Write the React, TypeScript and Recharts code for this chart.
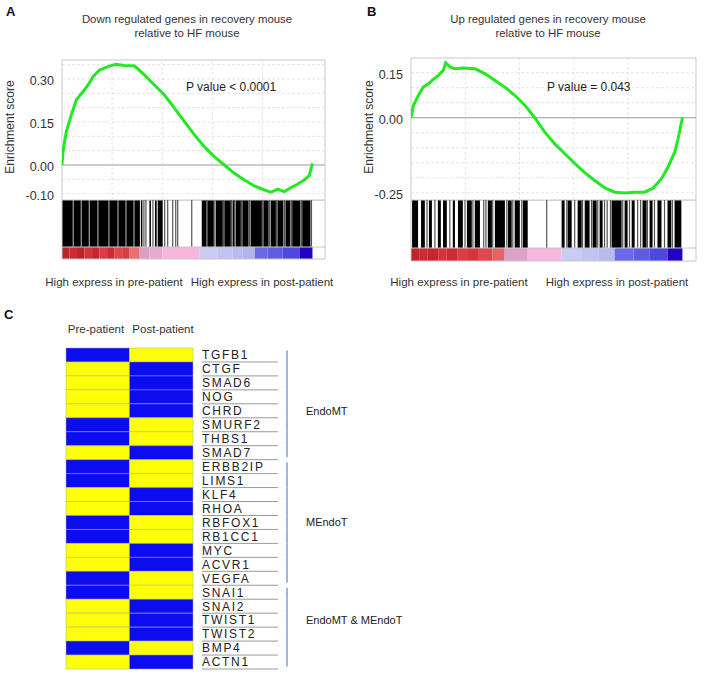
import React from 'react';
import { ComposedChart, Line, XAxis, YAxis, ReferenceLine, ReferenceArea, BarChart, Bar, Cell } from 'recharts';

const FONT = '"Liberation Sans", Arial, Helvetica, sans-serif';

// ---------- Panel A: down regulated genes in recovery mouse ----------
// running enrichment score, x = position in the ranked gene list (%)
const posA = [0, 0.4, 1.7, 3.7, 5.7, 8.4, 10.4, 12.4, 15.0, 18.3, 21.6, 25.0, 29.0, 32.9, 36.9, 40.9, 44.9, 48.9, 52.9, 56.8, 60.8, 64.8, 68.8, 72.8, 76.8, 80.7, 83.4, 86.1, 88.7, 91.4, 94.0, 96.7, 98.7, 100];
const esA = [0, 0.047, 0.116, 0.174, 0.227, 0.256, 0.279, 0.308, 0.331, 0.343, 0.351, 0.347, 0.345, 0.314, 0.279, 0.244, 0.198, 0.151, 0.105, 0.064, 0.029, 0, -0.029, -0.052, -0.073, -0.087, -0.095, -0.084, -0.093, -0.079, -0.067, -0.052, -0.037, 0.006];
// gene set hits: dense runs [from, to] and single hits
const hitRunsA = [[0, 4.3], [4.6, 7.5], [7.8, 10.7], [11.0, 14.2], [14.5, 18.6], [18.9, 22.2], [22.5, 25.4], [25.7, 28.6], [28.9, 31.1], [31.5, 32.1], [34.9, 35.5], [37.1, 37.8], [38.2, 40.2], [55.8, 57.6], [58.0, 60.6], [61.4, 64.2], [64.8, 67.4], [68.1, 68.7], [69.3, 71.4], [72.0, 74.5], [75.3, 79.8], [80.4, 82.5], [83.3, 85.4], [86.0, 88.4], [89.2, 91.2], [91.9, 95.2], [95.9, 99.2]];
const hitsA = [32.7, 33.5, 36.3, 41.0, 42.2, 44.2, 45.4, 46.2, 51.8, 57.8, 61.0, 64.5, 67.7, 68.9, 71.7, 74.9, 80.1, 82.9, 85.7, 88.8, 91.6, 95.6, 99.6];
// ranked list metric, [from, to, score]
const rankMetricA = [[0, 3, 0.95], [3, 6, 0.85], [6, 9, 0.95], [9, 12, 0.8], [12, 15, 0.9], [15, 18, 0.75], [18, 21, 0.85], [21, 24, 0.7], [24, 27, 0.75], [27, 31, 0.55], [31, 35, 0.4], [35, 40, 0.3], [40, 55, 0.2], [55, 62, -0.2], [62, 68, -0.25], [68, 72, -0.3], [72, 77, -0.35], [77, 82, -0.6], [82, 88, -0.65], [88, 95, -0.72], [95, 100, -1.0]];

// ---------- Panel B: up regulated genes in recovery mouse ----------
const posB = [0, 0.9, 2.7, 4.5, 6.4, 8.2, 10.1, 11.9, 12.8, 14.4, 16.2, 19.3, 23.6, 27.2, 30.9, 34.6, 38.3, 42.0, 45.6, 49.3, 53.0, 56.7, 60.4, 64.0, 67.7, 71.4, 75.1, 78.8, 82.5, 86.1, 89.2, 92.3, 94.7, 97.2, 98.4, 100];
const esB = [0, 0.041, 0.074, 0.102, 0.113, 0.128, 0.141, 0.158, 0.183, 0.169, 0.163, 0.166, 0.163, 0.147, 0.124, 0.102, 0.074, 0.041, 0, -0.048, -0.087, -0.12, -0.153, -0.183, -0.209, -0.234, -0.248, -0.251, -0.248, -0.248, -0.234, -0.203, -0.164, -0.114, -0.07, 0];
const hitRunsB = [[0.4, 2.6], [3.7, 5.1], [6.6, 7.7], [9.9, 11.0], [11.8, 13.2], [15.4, 16.2], [17.3, 19.1], [20.6, 22.4], [23.5, 25.4], [28.3, 29.8], [30.9, 34.6], [35.7, 37.1], [38.2, 40.1], [41.2, 43.0], [55.5, 56.6], [57.7, 59.2], [61.4, 62.9], [64.0, 65.8], [66.9, 68.4], [69.5, 70.6], [72.1, 72.4], [73.9, 77.6], [78.7, 79.8], [81.3, 82.4], [85.3, 86.8], [87.9, 89.0], [90.8, 92.3], [94.5, 95.9], [97.1, 99.6]];
const hitsB = [5.9, 8.8, 14.3, 19.9, 22.8, 26.8, 27.6, 30.1, 35.3, 37.5, 40.8, 50.0, 57.4, 60.3, 63.2, 66.5, 68.8, 71.3, 73.5, 78.0, 80.5, 83.5, 84.6, 87.1, 89.7, 93.4, 96.3];
const rankMetricB = [[0, 3, 0.95], [3, 6, 0.85], [6, 10, 0.9], [10, 13, 0.8], [13, 17, 0.85], [17, 21, 0.75], [21, 25, 0.8], [25, 30, 0.7], [30, 34.5, 0.6], [34.5, 43, 0.38], [43, 55.5, 0.2], [55.5, 63, -0.2], [63, 69, -0.25], [69, 75, -0.3], [75, 82, -0.6], [82, 88, -0.65], [88, 94.5, -0.72], [94.5, 100, -1.0]];

const yTicksA = [0.3, 0.15, 0, -0.1];
const yTicksB = [0.15, 0, -0.25];
const hGridA = [-0.1, -0.05, 0.05, 0.1, 0.15, 0.2, 0.25, 0.3, 0.35];
const hGridB = [-0.25, -0.2, -0.15, -0.1, -0.05, 0.05, 0.1, 0.15];
const vGrid = [20, 40, 60, 80];

// ---------- Panel C: heatmap ----------
const endoMTGenes = ['TGFB1', 'CTGF', 'SMAD6', 'NOG', 'CHRD', 'SMURF2', 'THBS1', 'SMAD7'];
const mEndoTGenes = ['ERBB2IP', 'LIMS1', 'KLF4', 'RHOA', 'RBFOX1', 'RB1CC1', 'MYC', 'ACVR1', 'VEGFA'];
const bothGenes = ['SNAI1', 'SNAI2', 'TWIST1', 'TWIST2', 'BMP4', 'ACTN1'];
// 1 = high (yellow), -1 = low (blue)
const preLevel = [-1, 1, 1, 1, 1, -1, -1, 1, -1, -1, 1, 1, -1, -1, 1, 1, -1, -1, 1, 1, 1, -1, 1];
const postLevel = [1, -1, -1, -1, -1, 1, 1, -1, 1, 1, -1, -1, 1, 1, -1, -1, 1, 1, -1, -1, -1, 1, -1];
const groups = [
  { name: 'EndoMT', genes: endoMTGenes, labelAt: 4 },
  { name: 'MEndoT', genes: mEndoTGenes, labelAt: 4 },
  { name: 'EndoMT & MEndoT', genes: bothGenes, labelAt: 2 },
];

const YELLOW = '#ffff0a';
const BLUE = '#0c0cf0';
const GREEN = '#22ea22';

const metricAnchors: [number, string][] = [
  [1.0, '#b81c26'], [0.85, '#cf2a34'], [0.7, '#e0474f'], [0.55, '#ec6e72'],
  [0.4, '#d9a0c4'], [0.2, '#f7b6dc'], [-0.2, '#cacaf2'], [-0.35, '#b2b2ec'],
  [-0.6, '#6a6ae8'], [-0.75, '#4a40dc'], [-1.0, '#2400c4'],
];
function hex(c: string) {
  return [1, 3, 5].map((i) => parseInt(c.slice(i, i + 2), 16));
}
function metricColor(s: number) {
  for (let i = 0; i < metricAnchors.length - 1; i++) {
    const [s0, c0] = metricAnchors[i];
    const [s1, c1] = metricAnchors[i + 1];
    if (s <= s0 && s >= s1) {
      const t = (s0 - s) / (s0 - s1);
      const a = hex(c0), b = hex(c1);
      const m = a.map((v, k) => Math.round(v + (b[k] - v) * t));
      return `rgb(${m[0]},${m[1]},${m[2]})`;
    }
  }
  return s > 0 ? metricAnchors[0][1] : metricAnchors[metricAnchors.length - 1][1];
}

function Txt({ x, y, children, size = 11, align = 'center', bold = false, rotate = false, color = '#333' }: any) {
  const tx = align === 'center' ? '-50%' : '0';
  return (
    <div
      style={{
        position: 'absolute', left: x, top: y, fontSize: size, fontFamily: FONT, lineHeight: 1,
        whiteSpace: 'nowrap', color, fontWeight: bold ? 700 : 400,
        transform: `translate(${tx}, -50%)${rotate ? ' rotate(-90deg)' : ''}`,
      }}
    >
      {children}
    </div>
  );
}

const X_MAX = 105;

function GseaPanel({ p }: any) {
  const g = p.box;
  const rows = p.pos.map((x: number, i: number) => ({ pos: x, es: p.es[i] }));
  const d = p.domain;
  const colorFrac = (g.bottom - g.colorTop) / (g.bottom - g.lineBottom);
  return (
    <>
      <div style={{ position: 'absolute', left: g.left - 50, top: g.top - 5 }}>
        <ComposedChart width={g.right - g.left + 55} height={g.lineBottom - g.top + 10} data={rows} margin={{ top: 5, right: 5, bottom: 5, left: 5 }}>
          <XAxis type="number" dataKey="pos" domain={[0, X_MAX]} hide allowDataOverflow />
          <YAxis
            type="number" domain={d} ticks={p.yTicks} width={45} allowDataOverflow interval={0}
            axisLine={false} tickLine={false} tickFormatter={(v: number) => v.toFixed(2)}
            tick={{ fontSize: 12.5, fill: '#333', fontFamily: FONT, dy: 2 }}
          />
          {p.hGrid.map((v: number) => (
            <ReferenceLine key={'h' + v} y={v} stroke="#e4e4e4" strokeDasharray="3 2" />
          ))}
          {vGrid.map((v) => (
            <ReferenceLine key={'v' + v} x={v} stroke="#e4e4e4" strokeDasharray="3 2" />
          ))}
          <ReferenceLine y={0} stroke="#9a9a9a" />
          <ReferenceArea x1={0} x2={X_MAX} y1={d[0]} y2={d[1]} fill="none" stroke="#c8c8c8" />
          <Line dataKey="es" type="linear" stroke={GREEN} strokeWidth={3} dot={false} isAnimationActive={false} />
        </ComposedChart>
      </div>
      <div style={{ position: 'absolute', left: g.left - 5, top: g.lineBottom }}>
        <ComposedChart width={g.right - g.left + 10} height={g.bottom - g.lineBottom + 5} data={rows} margin={{ top: 0, right: 5, bottom: 5, left: 5 }}>
          <XAxis type="number" dataKey="pos" domain={[0, X_MAX]} hide allowDataOverflow />
          <YAxis type="number" domain={[0, 1]} hide allowDataOverflow />
          {p.runs.map((r: number[], i: number) => (
            <ReferenceArea key={'r' + i} x1={r[0]} x2={r[1]} y1={colorFrac} y2={1} fill="#000" fillOpacity={1} stroke="none" />
          ))}
          {p.hits.map((h: number, i: number) => (
            <ReferenceLine key={'s' + i} segment={[{ x: h, y: colorFrac }, { x: h, y: 1 }]} stroke="#555" strokeWidth={1.2} />
          ))}
          {p.metric.map((m: number[], i: number) => (
            <ReferenceArea key={'m' + i} x1={m[0]} x2={m[1]} y1={0} y2={colorFrac} fill={metricColor(m[2])} fillOpacity={1} stroke="none" />
          ))}
          <ReferenceLine y={colorFrac} stroke="#c8c8c8" />
          <ReferenceArea x1={0} x2={X_MAX} y1={0} y2={1} fill="none" stroke="#c8c8c8" />
        </ComposedChart>
      </div>
    </>
  );
}

const panelA = {
  box: { left: 62, right: 325, top: 60, lineBottom: 200, colorTop: 247, bottom: 259 },
  domain: [-0.122, 0.366], yTicks: yTicksA, hGrid: hGridA,
  pos: posA, es: esA, runs: hitRunsA, hits: hitsA, metric: rankMetricA,
};
const panelB = {
  box: { left: 411, right: 696, top: 58, lineBottom: 200, colorTop: 248, bottom: 261 },
  domain: [-0.274, 0.199], yTicks: yTicksB, hGrid: hGridB,
  pos: posB, es: esB, runs: hitRunsB, hits: hitsB, metric: rankMetricB,
};

const ROW_H = 321 / 23;
const heatRows = groups.flatMap((gr) => gr.genes).map((gene, i) => ({ gene, pre: 1, post: 1, preLv: preLevel[i], postLv: postLevel[i] }));
const rowGroup: { gi: number; k: number; n: number }[] = [];
groups.forEach((gr, gi) => gr.genes.forEach((_, k) => rowGroup.push({ gi, k, n: gr.genes.length })));

function GeneTick(props: any) {
  const { x, y, payload, index } = props;
  const info = rowGroup[index];
  const first = info.k === 0;
  const last = info.k === info.n - 1;
  const gr = groups[info.gi];
  return (
    <g>
      <text x={x + 9} y={y} dy="0.36em" fontSize={12} letterSpacing={1.7} fill="#222" fontFamily={FONT}>{payload.value}</text>
      <line x1={x + 9} x2={x + 85} y1={y + ROW_H / 2} y2={y + ROW_H / 2} stroke="#9a9a9a" strokeWidth={1} />
      <line x1={x + 94} x2={x + 94} y1={y - ROW_H / 2 + (first ? 2.5 : 0)} y2={y + ROW_H / 2 - (last ? 2.5 : 0)} stroke="#7f9fd6" strokeWidth={1.5} />
      {info.k === gr.labelAt && (
        <text x={x + 113} y={y} dy="0.36em" fontSize={11} fill="#222" fontFamily={FONT}>{gr.name}</text>
      )}
    </g>
  );
}

function Heatmap() {
  return (
    <div style={{ position: 'absolute', left: 0, top: 340 }}>
      <BarChart layout="vertical" width={430} height={335} data={heatRows} margin={{ top: 8, left: 66, right: 17, bottom: 6 }} barCategoryGap={0} barGap={0}>
        <XAxis type="number" domain={[0, 2]} hide />
        <YAxis
          type="category" dataKey="gene" orientation="right" width={220} axisLine={false} tickLine={false}
          tickSize={0} tickMargin={0} interval={0} tick={(tp: any) => <GeneTick {...tp} />}
        />
        <Bar dataKey="pre" stackId="h" isAnimationActive={false}>
          {heatRows.map((r, i) => (
            <Cell key={i} fill={r.preLv > 0 ? YELLOW : BLUE} stroke="#a8a8a8" strokeWidth={0.5} />
          ))}
        </Bar>
        <Bar dataKey="post" stackId="h" isAnimationActive={false}>
          {heatRows.map((r, i) => (
            <Cell key={i} fill={r.postLv > 0 ? YELLOW : BLUE} stroke="#a8a8a8" strokeWidth={0.5} />
          ))}
        </Bar>
      </BarChart>
    </div>
  );
}

export default function App() {
  return (
    <div style={{ position: 'absolute', left: 0, top: 0, width: 708, height: 677, background: '#fff', overflow: 'hidden' }}>
      <Txt x={6} y={11} size={13} align="left" bold color="#111">A</Txt>
      <Txt x={367} y={11} size={13} align="left" bold color="#111">B</Txt>
      <Txt x={4} y={314} size={13} align="left" bold color="#111">C</Txt>

      <Txt x={187} y={20} size={11.4}>Down regulated genes in recovery mouse</Txt>
      <Txt x={187} y={34} size={11.4}>relative to HF mouse</Txt>
      <Txt x={548} y={20} size={11.4}>Up regulated genes in recovery mouse</Txt>
      <Txt x={548} y={34} size={11.4}>relative to HF mouse</Txt>

      <Txt x={10} y={127} size={12} rotate>Enrichment score</Txt>
      <Txt x={369} y={127} size={12} rotate>Enrichment score</Txt>

      <GseaPanel p={panelA} />
      <GseaPanel p={panelB} />

      <Txt x={186} y={87} size={12} align="left" color="#222">P value &lt; 0.0001</Txt>
      <Txt x={547} y={87} size={12} align="left" color="#222">P value = 0.043</Txt>

      <Txt x={114} y={283} size={11.5}>High express in pre-patient</Txt>
      <Txt x={262} y={283} size={11.5}>High express in post-patient</Txt>
      <Txt x={459} y={283} size={11.5}>High express in pre-patient</Txt>
      <Txt x={617} y={283} size={11.5}>High express in post-patient</Txt>

      <Txt x={96} y={330} size={11.5}>Pre-patient</Txt>
      <Txt x={163} y={330} size={11.5}>Post-patient</Txt>

      <Heatmap />
    </div>
  );
}
